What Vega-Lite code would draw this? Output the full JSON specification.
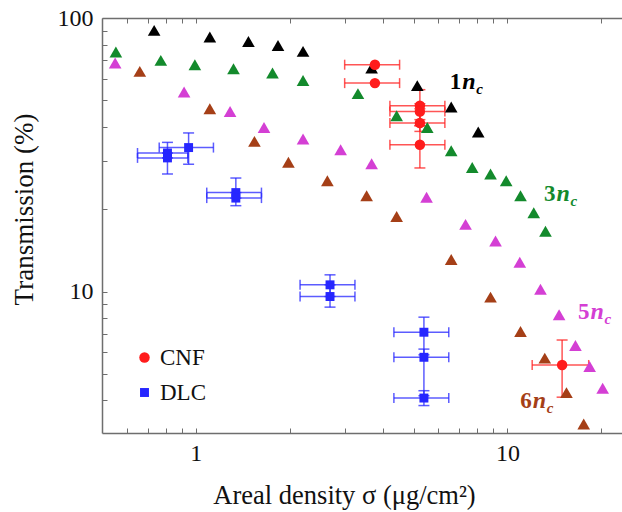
{
  "$schema": "https://vega.github.io/schema/vega-lite/v6.json",
  "width": 524,
  "height": 415,
  "autosize": "none",
  "padding": {"left": 102, "top": 18, "right": 0, "bottom": 79},
  "background": "white",
  "config": {
    "view": {"stroke": null},
    "font": "Liberation Serif",
    "legend": {"labelFont": "Liberation Serif", "labelFontSize": 23, "labelColor": "#111", "rowPadding": 11, "labelOffset": 4, "padding": 0, "symbolStrokeWidth": 0, "symbolOpacity": 1, "title": null}
  },
  "datasets": {
    "pts": [
      {"series": "1nc", "x": 0.735, "y": 90.1},
      {"series": "1nc", "x": 1.109, "y": 85.2},
      {"series": "1nc", "x": 1.475, "y": 82.1},
      {"series": "1nc", "x": 1.835, "y": 79.4},
      {"series": "1nc", "x": 2.208, "y": 75.5},
      {"series": "1nc", "x": 3.665, "y": 65.6},
      {"series": "1nc", "x": 5.135, "y": 56.6},
      {"series": "1nc", "x": 6.598, "y": 47.3},
      {"series": "1nc", "x": 8.056, "y": 38.3},
      {"series": "3nc", "x": 0.554, "y": 75.1},
      {"series": "3nc", "x": 0.772, "y": 70.0},
      {"series": "3nc", "x": 0.993, "y": 67.5},
      {"series": "3nc", "x": 1.321, "y": 65.2},
      {"series": "3nc", "x": 1.762, "y": 62.9},
      {"series": "3nc", "x": 2.208, "y": 59.1},
      {"series": "3nc", "x": 3.313, "y": 52.9},
      {"series": "3nc", "x": 4.409, "y": 43.9},
      {"series": "3nc", "x": 5.528, "y": 39.8},
      {"series": "3nc", "x": 6.598, "y": 32.7},
      {"series": "3nc", "x": 7.706, "y": 28.4},
      {"series": "3nc", "x": 8.822, "y": 26.9},
      {"series": "3nc", "x": 9.904, "y": 25.4},
      {"series": "3nc", "x": 11.01, "y": 22.4},
      {"series": "3nc", "x": 12.14, "y": 19.4},
      {"series": "3nc", "x": 13.24, "y": 16.6},
      {"series": "5nc", "x": 0.551, "y": 68.5},
      {"series": "5nc", "x": 0.917, "y": 53.6},
      {"series": "5nc", "x": 1.288, "y": 45.5},
      {"series": "5nc", "x": 1.655, "y": 39.8},
      {"series": "5nc", "x": 2.208, "y": 36.1},
      {"series": "5nc", "x": 2.915, "y": 33.0},
      {"series": "5nc", "x": 3.665, "y": 29.3},
      {"series": "5nc", "x": 5.50, "y": 22.1},
      {"series": "5nc", "x": 7.335, "y": 17.6},
      {"series": "5nc", "x": 9.154, "y": 15.3},
      {"series": "5nc", "x": 10.95, "y": 12.8},
      {"series": "5nc", "x": 12.76, "y": 10.2},
      {"series": "5nc", "x": 14.64, "y": 8.22},
      {"series": "5nc", "x": 16.52, "y": 6.35},
      {"series": "5nc", "x": 18.35, "y": 5.32},
      {"series": "5nc", "x": 20.20, "y": 4.43},
      {"series": "6nc", "x": 0.661, "y": 63.8},
      {"series": "6nc", "x": 1.109, "y": 46.6},
      {"series": "6nc", "x": 1.542, "y": 35.4},
      {"series": "6nc", "x": 1.982, "y": 29.7},
      {"series": "6nc", "x": 2.643, "y": 25.4},
      {"series": "6nc", "x": 3.532, "y": 22.4},
      {"series": "6nc", "x": 4.409, "y": 18.8},
      {"series": "6nc", "x": 6.598, "y": 13.1},
      {"series": "6nc", "x": 8.822, "y": 9.54},
      {"series": "6nc", "x": 11.01, "y": 7.14},
      {"series": "6nc", "x": 13.17, "y": 5.71},
      {"series": "6nc", "x": 15.46, "y": 4.27},
      {"series": "6nc", "x": 17.56, "y": 3.28},
      {"series": "DLC", "x": 0.811, "y": 32.1, "xlo": 0.650, "xhi": 0.943, "ylo": 30.8, "yhi": 35.1},
      {"series": "DLC", "x": 0.811, "y": 30.8, "xlo": 0.650, "xhi": 0.943, "ylo": 26.9, "yhi": 32.1},
      {"series": "DLC", "x": 0.948, "y": 33.6, "xlo": 0.763, "xhi": 1.139, "ylo": 29.2, "yhi": 38.0},
      {"series": "DLC", "x": 1.344, "y": 23.0, "xlo": 1.084, "xhi": 1.624, "ylo": 21.96, "yhi": 26.0},
      {"series": "DLC", "x": 1.344, "y": 21.96, "xlo": 1.084, "xhi": 1.624, "ylo": 20.6, "yhi": 23.0},
      {"series": "DLC", "x": 2.695, "y": 10.58, "xlo": 2.160, "xhi": 3.240, "ylo": 9.59, "yhi": 11.51},
      {"series": "DLC", "x": 2.695, "y": 9.59, "xlo": 2.160, "xhi": 3.240, "ylo": 8.77, "yhi": 10.58},
      {"series": "DLC", "x": 5.393, "y": 7.10, "xlo": 4.32, "xhi": 6.48, "ylo": 5.87, "yhi": 8.06},
      {"series": "DLC", "x": 5.393, "y": 5.75, "xlo": 4.32, "xhi": 6.48, "ylo": 4.16, "yhi": 6.16},
      {"series": "DLC", "x": 5.393, "y": 4.08, "xlo": 4.32, "xhi": 6.48, "ylo": 3.83, "yhi": 4.34},
      {"series": "CNF", "x": 3.755, "y": 67.5, "xlo": 3.003, "xhi": 4.506},
      {"series": "CNF", "x": 3.755, "y": 57.8, "xlo": 3.003, "xhi": 4.506},
      {"series": "CNF", "x": 5.235, "y": 47.8, "xlo": 4.195, "xhi": 6.296, "ylo": 42.5, "yhi": 54.7},
      {"series": "CNF", "x": 5.235, "y": 45.5, "xlo": 4.195, "xhi": 6.296, "ylo": 40.4, "yhi": 48.6},
      {"series": "CNF", "x": 5.235, "y": 41.3, "xlo": 4.195, "xhi": 6.296, "ylo": 38.5, "yhi": 46.6},
      {"series": "CNF", "x": 5.235, "y": 34.4, "xlo": 4.195, "xhi": 6.296, "ylo": 28.3, "yhi": 40.4},
      {"series": "CNF", "x": 14.97, "y": 5.39, "xlo": 12.0, "xhi": 18.22, "ylo": 4.11, "yhi": 6.65}
    ],
    "labels": [
      {"series": "1nc", "num": "1", "x": 7.16, "y": 55.0},
      {"series": "3nc", "num": "3", "x": 14.36, "y": 21.47},
      {"series": "5nc", "num": "5", "x": 18.45, "y": 7.93},
      {"series": "6nc", "num": "6", "x": 12.06, "y": 3.75}
    ]
  },
  "resolve": {"axis": {"x": "independent", "y": "independent"}},
  "layer": [
    {
      "data": {"name": "pts"},
      "transform": [{"filter": "isValid(datum.xlo)"}],
      "mark": {"type": "rule", "strokeWidth": 1.5, "opacity": 0.75},
      "encoding": {
        "x": {"field": "xlo", "type": "quantitative", "scale": {"type": "log", "domain": [0.5, 24], "nice": false},
          "axis": {"orient": "top", "values": [0.6, 0.7, 0.8, 0.9, 1, 2, 3, 4, 5, 6, 7, 8, 9, 10, 20], "labels": false, "title": null, "tickSize": -5, "tickColor": "#6e6e6e", "domainColor": "#6e6e6e", "domainWidth": 1.5, "grid": false}},
        "x2": {"field": "xhi"},
        "y": {"field": "y", "type": "quantitative", "scale": {"type": "log", "domain": [3.04, 100], "nice": false}, "axis": null},
        "color": {"field": "series", "type": "nominal"}
      }
    },
    {
      "data": {"name": "pts"},
      "transform": [{"filter": "isValid(datum.xlo)"}],
      "mark": {"type": "tick", "orient": "vertical", "size": 10, "thickness": 1.5, "opacity": 0.75},
      "encoding": {
        "x": {"field": "xlo", "type": "quantitative", "axis": null},
        "y": {"field": "y", "type": "quantitative", "axis": null},
        "color": {"field": "series", "type": "nominal"}
      }
    },
    {
      "data": {"name": "pts"},
      "transform": [{"filter": "isValid(datum.xhi)"}],
      "mark": {"type": "tick", "orient": "vertical", "size": 10, "thickness": 1.5, "opacity": 0.75},
      "encoding": {
        "x": {"field": "xhi", "type": "quantitative", "axis": null},
        "y": {"field": "y", "type": "quantitative", "axis": null},
        "color": {"field": "series", "type": "nominal"}
      }
    },
    {
      "data": {"name": "pts"},
      "transform": [{"filter": "isValid(datum.ylo)"}],
      "mark": {"type": "rule", "strokeWidth": 1.5, "opacity": 0.75},
      "encoding": {
        "x": {"field": "x", "type": "quantitative", "axis": null},
        "y": {"field": "ylo", "type": "quantitative", "axis": null},
        "y2": {"field": "yhi"},
        "color": {"field": "series", "type": "nominal"}
      }
    },
    {
      "data": {"name": "pts"},
      "transform": [{"filter": "isValid(datum.ylo)"}],
      "mark": {"type": "tick", "orient": "horizontal", "size": 11, "thickness": 1.5, "opacity": 0.75},
      "encoding": {
        "x": {"field": "x", "type": "quantitative", "axis": null},
        "y": {"field": "ylo", "type": "quantitative", "axis": null},
        "color": {"field": "series", "type": "nominal"}
      }
    },
    {
      "data": {"name": "pts"},
      "transform": [{"filter": "isValid(datum.yhi)"}],
      "mark": {"type": "tick", "orient": "horizontal", "size": 11, "thickness": 1.5, "opacity": 0.75},
      "encoding": {
        "x": {"field": "x", "type": "quantitative", "axis": null},
        "y": {"field": "yhi", "type": "quantitative", "axis": null},
        "color": {"field": "series", "type": "nominal"}
      }
    },
    {
      "data": {"name": "pts"},
      "mark": {"type": "point", "filled": true, "opacity": 1, "strokeWidth": 0},
      "encoding": {
        "x": {"field": "x", "type": "quantitative",
          "axis": {"orient": "bottom", "values": [0.6, 0.7, 0.8, 0.9, 1, 2, 3, 4, 5, 6, 7, 8, 9, 10, 20],
            "labelExpr": "datum.value == 1 ? '1' : (datum.value == 10 ? '10' : '')",
            "labelOverlap": false, "labelFlush": false, "tickSize": -5, "tickColor": "#6e6e6e", "domainColor": "#6e6e6e", "domainWidth": 1.5, "grid": false,
            "labelFont": "Liberation Serif", "labelFontSize": 24, "labelColor": "#111", "labelPadding": 13,
            "title": "Areal density σ (μg/cm²)", "titleFont": "Liberation Serif", "titleFontSize": 26.5, "titleFontWeight": "normal", "titleColor": "#111",
            "titleX": 242, "titleY": 70, "titleBaseline": "alphabetic", "titleAnchor": "middle"}},
        "y": {"field": "y", "type": "quantitative",
          "axis": {"orient": "left", "values": [4, 5, 6, 7, 8, 9, 10, 20, 30, 40, 50, 60, 70, 80, 90, 100],
            "labelExpr": "datum.value == 10 ? '10' : (datum.value == 100 ? '100' : '')",
            "labelOverlap": false, "labelFlush": false, "tickSize": -5, "tickColor": "#6e6e6e", "domainColor": "#6e6e6e", "domainWidth": 1.5, "grid": false,
            "labelFont": "Liberation Serif", "labelFontSize": 24, "labelColor": "#111", "labelPadding": 14, "labelBaseline": "middle",
            "title": "Transmission (%)", "titleFont": "Liberation Serif", "titleFontSize": 27, "titleFontWeight": "normal", "titleColor": "#111",
            "titleX": -70, "titleY": 191, "titleBaseline": "alphabetic", "titleAngle": -90, "titleAnchor": "middle"}},
        "color": {"field": "series", "type": "nominal",
          "scale": {"domain": ["CNF", "DLC", "1nc", "3nc", "5nc", "6nc"], "range": ["#ff1c1c", "#2626ff", "#000000", "#138a2c", "#d43fd4", "#a53f17"]},
          "legend": {"values": ["CNF", "DLC"], "orient": "none", "legendX": 31, "legendY": 328}},
        "shape": {"field": "series", "type": "nominal",
          "scale": {"domain": ["CNF", "DLC", "1nc", "3nc", "5nc", "6nc"], "range": ["circle", "square", "triangle-up", "triangle-up", "triangle-up", "triangle-up"]},
          "legend": {"values": ["CNF", "DLC"], "orient": "none", "legendX": 31, "legendY": 328}},
        "size": {"field": "series", "type": "nominal",
          "scale": {"type": "ordinal", "domain": ["CNF", "DLC", "1nc", "3nc", "5nc", "6nc"], "range": [110, 80, 160, 160, 160, 160]},
          "legend": {"values": ["CNF", "DLC"], "orient": "none", "legendX": 31, "legendY": 328}}
      }
    },
    {
      "data": {"name": "labels"},
      "mark": {"type": "text", "align": "right", "baseline": "alphabetic", "font": "Liberation Serif", "fontSize": 23, "fontWeight": "bold", "dx": -1},
      "encoding": {
        "x": {"field": "x", "type": "quantitative", "axis": null},
        "y": {"field": "y", "type": "quantitative", "axis": null},
        "text": {"field": "num"},
        "color": {"field": "series", "type": "nominal"}
      }
    },
    {
      "data": {"name": "labels"},
      "mark": {"type": "text", "text": "n", "align": "left", "baseline": "alphabetic", "font": "Liberation Serif", "fontSize": 24, "fontWeight": "bold", "fontStyle": "italic"},
      "encoding": {
        "x": {"field": "x", "type": "quantitative", "axis": null},
        "y": {"field": "y", "type": "quantitative", "axis": null},
        "color": {"field": "series", "type": "nominal"}
      }
    },
    {
      "data": {"name": "labels"},
      "mark": {"type": "text", "text": "c", "align": "left", "baseline": "alphabetic", "font": "Liberation Serif", "fontSize": 15, "fontWeight": "bold", "fontStyle": "italic", "dx": 14, "dy": 5},
      "encoding": {
        "x": {"field": "x", "type": "quantitative", "axis": null},
        "y": {"field": "y", "type": "quantitative", "axis": null},
        "color": {"field": "series", "type": "nominal"}
      }
    }
  ]
}
